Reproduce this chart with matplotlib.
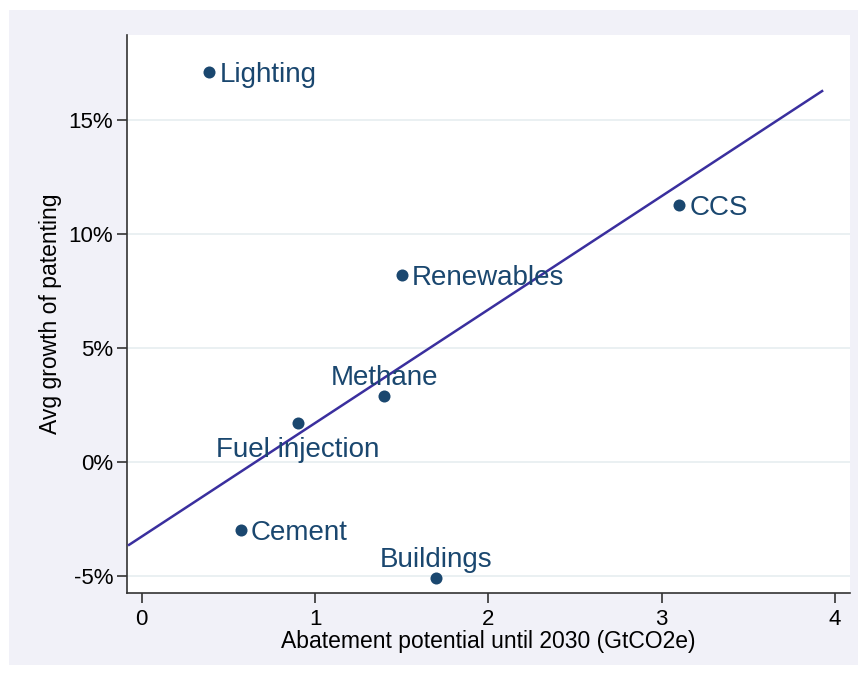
import matplotlib
matplotlib.use("Agg")
import matplotlib.pyplot as plt
from matplotlib.patches import Rectangle
from matplotlib.ticker import FuncFormatter

plt.rcParams['font.family'] = ['Liberation Sans', 'DejaVu Sans']

# data
sectors = ["Lighting", "CCS", "Renewables", "Methane", "Fuel injection", "Cement", "Buildings"]
abatement = [0.39, 3.10, 1.50, 1.40, 0.90, 0.57, 1.70]
growth = [17.1, 11.25, 8.2, 2.9, 1.7, -3.0, -5.1]
label_pos = ["right", "right", "right", "above", "below", "right", "above"]
fit_x = [-0.073, 3.926]
fit_y = [-3.65, 16.26]
x_ticks = [0, 1, 2, 3, 4]
y_ticks = [-5, 0, 5, 10, 15]

W, H = 860, 677
fig = plt.figure(figsize=(W / 100, H / 100), dpi=100)
fig.patch.set_facecolor("white")
bg = Rectangle((9 / W, 1 - 665 / H), (858 - 9) / W, (665 - 10) / H,
               transform=fig.transFigure, facecolor="#F1F1F8",
               edgecolor="none", zorder=-10)
fig.add_artist(bg)

ax = fig.add_axes([127 / W, 1 - 592.7 / H, (850 - 127) / W, (592.7 - 35) / H])
ax.set_zorder(1)
ax.set_facecolor("white")
ax.set_xlim(-0.085, 4.087)
ax.set_ylim(-5.75, 18.72)

navy = "#1a476f"
for yt in y_ticks:
    ax.axhline(yt, color="#E6EEF0", lw=1.2, zorder=1)

ax.plot(fit_x, fit_y, color="#3A2F9E", lw=1.8, zorder=3)
ax.scatter(abatement, growth, s=75, color=navy, zorder=4, linewidths=0)

lfs = 20
for name, x, y, pos in zip(sectors, abatement, growth, label_pos):
    if pos == "right":
        ax.annotate(name, (x, y), xytext=(7.5, -2), textcoords="offset points",
                    ha="left", va="center", fontsize=lfs, color=navy, zorder=5)
    elif pos == "above":
        ax.annotate(name, (x, y), xytext=(0, 3.5), textcoords="offset points",
                    ha="center", va="bottom", fontsize=lfs, color=navy, zorder=5)
    else:
        ax.annotate(name, (x, y), xytext=(0, -10), textcoords="offset points",
                    ha="center", va="top", fontsize=lfs, color=navy, zorder=5)

ax.set_xticks(x_ticks)
ax.set_yticks(y_ticks)
ax.yaxis.set_major_formatter(FuncFormatter(lambda v, p: f"{v:.0f}%"))
ax.tick_params(axis="both", direction="out", length=7, width=1.2, color="#333333",
               labelsize=16, labelcolor="black")
ax.tick_params(axis="y", pad=3)
ax.tick_params(axis="x", pad=5)
for s in ["top", "right"]:
    ax.spines[s].set_visible(False)
for s in ["left", "bottom"]:
    ax.spines[s].set_color("#333333")
    ax.spines[s].set_linewidth(1.2)

ax.set_xlabel("Abatement potential until 2030 (GtCO2e)", fontsize=16.5, labelpad=0)
ax.set_ylabel("Avg growth of patenting", fontsize=16.5, labelpad=5)

fig.savefig("out.png", dpi=100, facecolor="white")
